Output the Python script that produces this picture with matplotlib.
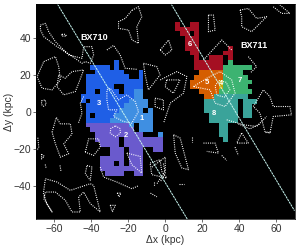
import numpy as np
import matplotlib
matplotlib.use("Agg")
import matplotlib.pyplot as plt
from matplotlib.colors import ListedColormap

plt.rcParams['font.family'] = ['Liberation Sans', 'DejaVu Sans']

# segmentation maps, one letter per spaxel
seg_left = [
    ".......B",
    "..BBBB.B",
    "...BBBBBB...B",
    ".BBBBBBBBB..B",
    ".BBBBBBBBBBBB",
    ".BBBBBB..BBBB",
    ".BB.BBBB.BBLL",
    "BBBBBBBBBBBLL",
    "B.BBBBBBBBLLLL",
    ".BBBBBBBBLLLLL",
    ".BBBBBBBLLLLL.L",
    ".B.BBBBLLLLLLLL",
    ".BBBBBLLLLLLLLL",
    ".PPPPPPPPPL.LLL",
    "..PPPPPPPPP.LLL",
    "...PPPPPPPPPP...L",
    "...PPPPP.PPPPPPPP",
    "....PPPP.PPPPPPPP",
    "......PPP.PPP..PP",
    "......PPP.PPP",
    "....PPPPP.PPP",
    "....PPP.P.PPP",
    "....PPPPPPPPP",
    ".....PPPP..PP",
]
seg_right = [
    "R..RR",
    "RRRRR",
    ".RR.R",
    "..RRR",
    "..RRR",
    "..RRR......R",
    "...RR.....RR",
    "....R..RRR.R",
    "....RRRRRR.G",
    "....RRRRRRGGGGGG",
    ".....OOOOOGGGG",
    "....OOOOOOGGGGG",
    "...OOOOOOYGGGGGG",
    "...OOOOOOYGGGGG",
    ".....OOOOGGGGGGG",
    "......OOTTTTTTT",
    "......TTTTTTT.TTT",
    "......TTTTTTT.TT",
    "......TTTTTTT.TT",
    ".......TTTTTT.TT",
    ".......TTTTTT",
    ".........TT",
    ".........TT",
    ".........TT",
    "..........T",
]
letters = ".BLPROYGT"
seg_colors = ["#000000", "#1f5fe6", "#3f8fe2", "#6a5acd", "#a50f22",
              "#d55e00", "#c9a800", "#3cb371", "#3aa39a"]
cell = 2.61
left_origin = (-45.8, 28.1)
right_origin = (5.4, 48.8)

# dotted contours (kpc)
contours = [
    [(-67.6,47),(-64.9,47.9),(-63.1,43.4),(-59.5,38),(-52.3,30.8),(-45.1,29),(-44.2,35.3),(-39.7,35.3),(-38.8,30.8),(-40.6,26.3),(-43.3,27.2),(-45.1,26.3),(-51.4,30.8),(-58.6,35.3),(-65.8,40.7),(-67.6,44.3),(-67.6,47)],
    [(-65.8,27.2),(-59.5,29.9),(-57.7,24.5),(-56.8,17.3),(-61.3,11.9),(-66.7,12.8),(-69.4,19.1),(-65.8,27.2)],
    [(-57.7,20),(-54.1,18.2),(-50.5,21.8),(-44.2,22.7),(-46.9,15.5),(-48.7,11),(-55,9.2),(-58.6,13.7),(-57.7,20)],
    [(-56,42),(-54,42),(-53.5,41),(-56,41),(-56,42)],
    [(-67,6),(-65,6.5),(-64.5,4),(-66,3),(-67,4),(-67,6)],
    [(-18,55),(-14.5,56.9),(-12.7,51.5),(-15.4,46.1),(-14.5,37.1),(-18,38.9),(-19.9,44.3),(-25.3,45.2),(-25.3,48.8),(-21.7,50.6),(-18,55)],
    [(-31.6,33.5),(-28,36),(-24.4,30.8),(-21.7,23.6),(-15,23)],
    [(-44.2,8.3),(-46,4.7),(-45.1,-0.7),(-47,-6)],
    [(-61.3,-11),(-59,-3),(-56.8,-6.5),(-51.4,-6.5),(-50.5,-12),(-55,-17.3),(-52.3,-22.7),(-56.8,-24.5),(-59.5,-17.3),(-61.3,-11)],
    [(-43.3,-21.8),(-41.5,-14.6),(-36.1,-14.6),(-35.2,-19.1),(-38.8,-23.6),(-43.3,-21.8)],
    [(-42.4,-29),(-39.7,-29.9),(-40.6,-37),(-43.3,-33.5),(-42.4,-29)],
    [(-64.9,-36.2),(-58.6,-38),(-51.4,-42.5),(-40.6,-38.9),(-38.8,-39.8),(-35.2,-54.2),(-40.6,-49.7),(-44.2,-43.4),(-46.9,-46.1),(-46,-54.2),(-50.5,-54.2),(-54.1,-47.9),(-59.5,-43.4),(-64.9,-43.4),(-65.8,-47),(-61.3,-54.2),(-64,-50),(-66,-44),(-64.9,-36.2)],
    [(-29.8,-50.6),(-27,-50.6),(-28.6,-54),(-29.8,-50.6)],
    [(-26,-44),(-24,-44),(-25,-46),(-26,-44)],
    [(-35.2,-29.9),(-33.4,-35.3),(-26.2,-38),(-18.1,-41.6),(-14.5,-40)],
    [(-69,-14),(-68.5,-19),(-69.5,-21)],
    [(-67,-23),(-65.5,-24),(-67,-25.5),(-67,-23)],
    [(-65,-28.5),(-64.5,-30.5)],
    [(-57,-29),(-56.5,-32)],
    [(40.5,55.1),(45,56),(49.5,50.6),(54.9,51.5),(46.8,43.4),(41.4,46.1),(41.4,51.5),(40.5,55.1)],
    [(58.5,56.9),(63,53.3),(67.5,53.3),(61.2,58.7)],
    [(23.4,52.4),(26.1,52.4),(27,44.3),(23.4,43.4),(23.4,52.4)],
    [(-2.7,33.5),(1.8,38.9),(3.6,33.5),(0,30.8),(-2.7,33.5)],
    [(20.7,28.1),(30.6,38.9),(36,33.5)],
    [(45,29.9),(49.5,24.5),(46,21)],
    [(-2.7,17.3),(6.3,21.8),(11.7,19.1),(9.9,10.1),(2.7,4.7),(-0.9,-6.1)],
    [(47.7,2.9),(53.1,11.9),(56.7,8.3),(58.5,2.9),(67.5,2.9),(68.4,-1.6),(58.5,-2.5),(56.7,-11.5),(54,-10.6),(51.3,-0.7),(47.7,2.9)],
    [(4.5,-12.4),(8.1,-14.2),(12.6,-31.3),(9,-30.4),(5.4,-22.3),(4.5,-12.4)],
    [(20.7,-16.9),(27,-16.9),(28.8,-22.3),(22.5,-21.4)],
    [(41.4,-11.5),(45,-16.9),(38.7,-16.9),(41.4,-11.5)],
    [(33.3,-4.3),(42.3,-7),(49.5,-7.9),(54.9,-2.5)],
    [(-1,-28),(0,-33),(-2.7,-38)],
    [(15.3,13.7),(22.5,18.2),(29.7,21.8),(36,17.3),(37.8,10.1),(32.4,2.9),(27,4.7),(24.3,11.9),(15.3,13.7)],
    [(29,17),(33,16),(35,12),(32,8),(28,9),(27,14),(29,17)],
    [(-31.6,11.9),(-29.8,12.8),(-25.3,6.5),(-20.8,9.2),(-16.3,5.6),(-14.5,0.2),(-18.1,-6.1),(-22.6,-5.2),(-28,-2.5),(-26.2,1.1),(-30.7,1.1),(-31.6,6.5),(-31.6,11.9)],
    [(-27,-7.6),(-24.5,-9),(-24.3,-11.5),(-27,-13.5),(-29.8,-11.5),(-29.5,-9),(-27,-7.6)],
    [(-11.8,26.3),(-4.6,24.5),(-2.8,20),(-9.1,11.9),(-10.9,20),(-11.8,26.3)],
    [(-5.5,7.4),(-1,6.5),(-1,1.1),(-5.5,2.9),(-5.5,7.4)],
    [(0.8,17.3),(8,17.3),(4.4,10.1),(-0.1,13.7),(0.8,17.3)],
    [(-20.8,-22.3),(-13.6,-24.1),(-12.7,-33.1),(-18.1,-28.6),(-20.8,-22.3)],
    [(-8.2,-27.7),(-2.8,-25.9),(-1.9,-32.2),(0.8,-35.8),(-7.3,-34),(-8.2,-27.7)],
    [(-7.2,-29.9),(0,-24.5),(0,-31.7),(-4.5,-38.9)],
    [(7.2,-38.9),(10,-38.9)],
    [(-6.3,-38),(-6.3,-40)],
    [(-8,-44),(-4.5,-46)],
    [(37.8,-19.1),(39.6,-23.6)],
    [(30.6,-23.6),(33.3,-26.3)],
    [(39.6,-6.5),(45.9,-9.2),(51.3,-6.5)],
    [(54,-11),(57,-11)],
    [(14.4,-13.7),(14.4,-16.4)],
]

slit_a = [(-58.4, 58.4), (11.9, -58)]
slit_b = [(3.2, 58.4), (70, -53.5)]

region_labels = ["1", "2", "3", "4", "5", "6", "7", "8"]
region_x = [-12.7, -21.3, -35.7, 30.2, 22.5, 13.1, 40.5, 26.1]
region_y = [-3.4, -13, 4.7, 15.1, 16, 36.7, 16.8, -0.7]

fig = plt.figure(figsize=(2.99, 2.48), dpi=100)
ax = fig.add_axes([36/299, 29/248, 258.5/299, 215/248])
ax.set_facecolor("black")
cmap = ListedColormap(seg_colors)


def draw_seg(rows, origin):
    ncol = max(len(r) for r in rows)
    grid = np.zeros((len(rows), ncol))
    for j, r in enumerate(rows):
        for i, c in enumerate(r):
            grid[j, i] = letters.index(c)
    grid = np.ma.masked_equal(grid, 0)
    xe = origin[0] + cell * np.arange(ncol + 1)
    ye = origin[1] - cell * np.arange(len(rows) + 1)
    ax.pcolormesh(xe, ye, grid, cmap=cmap, vmin=-0.5, vmax=8.5)


draw_seg(seg_left, left_origin)
draw_seg(seg_right, right_origin)

for c in contours:
    pts = np.array(c)
    ax.plot(pts[:, 0], pts[:, 1], color="white", lw=0.8, ls=(0, (0.9, 1.1)))

for s in (slit_a, slit_b):
    pts = np.array(s)
    ax.plot(pts[:, 0], pts[:, 1], color="#c8f5f0", lw=0.7, ls=(0, (2.5, 0.7)))

for lab, x, y in zip(region_labels, region_x, region_y):
    ax.text(x, y, lab, color="white", fontsize=5.5, fontweight="bold", ha="center", va="center")
ax.text(-38.4, 40.5, "BX710", color="white", fontsize=6.5, fontweight="bold", ha="center", va="center")
ax.text(48.2, 35.8, "BX711", color="white", fontsize=6.5, fontweight="bold", ha="center", va="center")

ax.set_xlim(-70, 70)
ax.set_ylim(-58, 58.4)
ax.set_xticks([-60, -40, -20, 0, 20, 40, 60])
ax.set_yticks([-40, -20, 0, 20, 40])
ax.tick_params(labelsize=7.5, length=2, width=0.5, pad=1.5, colors="#333333")
ax.set_xlabel("Δx (kpc)", fontsize=7.5, color="#333333", labelpad=1)
ax.set_ylabel("Δy (kpc)", fontsize=7.5, color="#333333", labelpad=0)
for sp in ax.spines.values():
    sp.set_linewidth(0.5)

fig.savefig("out.png", dpi=100)
